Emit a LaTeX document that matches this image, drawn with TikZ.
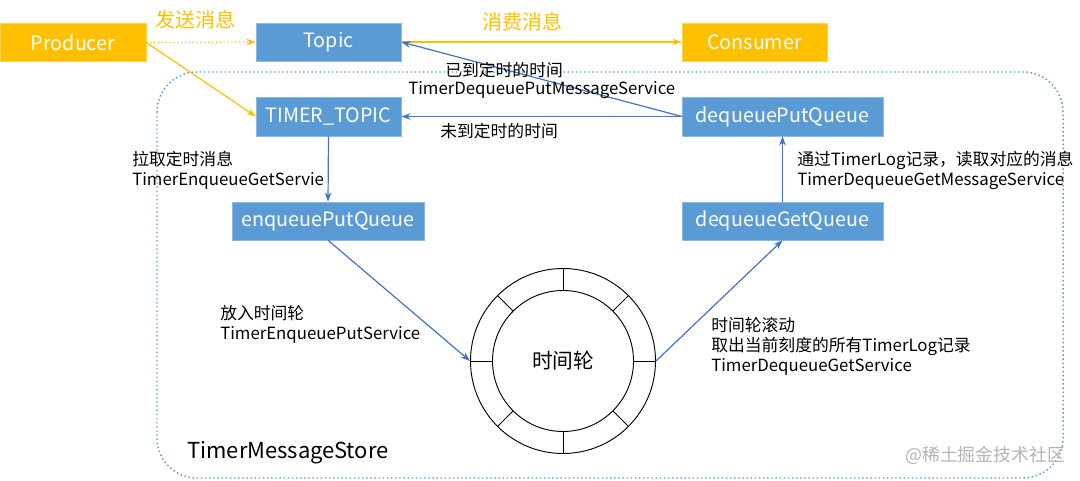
\documentclass[tikz,border=0pt]{standalone}
\usepackage{fontspec}
\setmainfont{Noto Sans CJK SC}
\usetikzlibrary{arrows.meta}
\definecolor{qblue}{HTML}{5B9BD5}
\definecolor{qgold}{HTML}{FFC000}
\definecolor{lineblue}{HTML}{4472C4}
\definecolor{wmgray}{HTML}{B4B4B4}
\begin{document}
\begin{tikzpicture}[x=0.75pt,y=-0.75pt,
  box/.style={inner sep=0pt, text=white, font=\fontsize{14.8}{16}\selectfont, minimum height=28.5pt},
  bluebox/.style={box, fill=qblue, draw=qblue!70!white},
  goldbox/.style={box, fill=qgold, draw=qgold!70!white},
  lbl/.style={inner sep=0pt, anchor=west, align=left, font=\fontsize{12.6}{15}\selectfont, text=black},
  goldlbl/.style={inner sep=0pt, text=qgold, font=\fontsize{15}{18}\selectfont},
  bluearrow/.style={draw=lineblue, line width=0.9pt, -{Stealth[length=7pt,width=5pt]}},
  goldarrow/.style={draw=qgold, line width=0.9pt, -{Stealth[length=7pt,width=5pt]}},
  ring/.style={draw=black, line width=0.7pt, circle, inner sep=0pt}
]
\useasboundingbox (0,0) rectangle (1080,481);
% container
\draw[qblue, dotted, line width=1.1pt, rounded corners=30pt] (157,72) rectangle (1063,478);
% boxes
\node[goldbox, minimum width=109.5pt] (producer) at (73,42.5) {Producer};
\node[bluebox, minimum width=108.75pt] (topic) at (328.5,42) {Topic};
\node[goldbox, minimum width=108.75pt] (consumer) at (754.5,42) {Consumer};
\node[bluebox, minimum width=108.75pt, minimum height=29.25pt] (timertopic) at (328.5,116.5) {TIMER\_TOPIC};
\node[bluebox, minimum width=150.75pt, minimum height=29.25pt] (dpq) at (782.5,116.5) {dequeuePutQueue};
\node[bluebox, minimum width=144pt] (epq) at (328,221) {enqueuePutQueue};
\node[bluebox, minimum width=150.75pt] (dgq) at (782.5,221) {dequeueGetQueue};
% wheel
\node[ring, minimum size=138.75pt] (wheel) at (563,361) {};
\node[ring, minimum size=105.75pt, font=\fontsize{15.5}{18}\selectfont] (hub) at (563,361) {时间轮};
\foreach \a in {0,45,...,315}
  \draw[line width=0.7pt] (wheel.center) ++(\a:52.9pt) -- ++(\a:16.5pt);
% arrows
\draw[goldarrow, dotted] (producer.east) -- (topic.west);
\draw[goldarrow] (producer.east) -- (timertopic.west);
\draw[goldarrow] (topic.east) -- (consumer.west);
\draw[bluearrow] (dpq.west) -- (topic.east);
\draw[bluearrow] (dpq.west) -- (timertopic.east);
\draw[bluearrow] (timertopic.south) -- (epq.north);
\draw[bluearrow] (epq.south) -- (wheel.west);
\draw[bluearrow] (wheel.east) -- (dgq.south);
\draw[bluearrow] (dgq.north) -- (dpq.south);
% labels
\node[goldlbl] (send) at (195,20) {发送消息};
\node[goldlbl] (consume) at (522,22) {消费消息};
\node[lbl] (arrived) at (445,70) {已到定时的时间};
\node[lbl] (arrivedsvc) at (408,90) {TimerDequeuePutMessageService};
\node[lbl] (notarrived) at (440,131) {未到定时的时间};
\node[lbl] (pull) at (132,170) {拉取定时消息\\TimerEnqueueGetServie};
\node[lbl] (put) at (220,324) {放入时间轮\\TimerEnqueuePutService};
\node[lbl] (roll) at (711,346) {时间轮滚动\\取出当前刻度的所有TimerLog记录\\TimerDequeueGetService};
\node[lbl] (read) at (797,170) {通过TimerLog记录，读取对应的消息\\TimerDequeueGetMessageService};
\node[lbl, font=\fontsize{16.5}{18}\selectfont] (store) at (187,453) {TimerMessageStore};
\node[lbl, text=wmgray, font=\fontsize{13.4}{15}\selectfont] (wm) at (905,455) {@稀土掘金技术社区};
\end{tikzpicture}
\end{document}
